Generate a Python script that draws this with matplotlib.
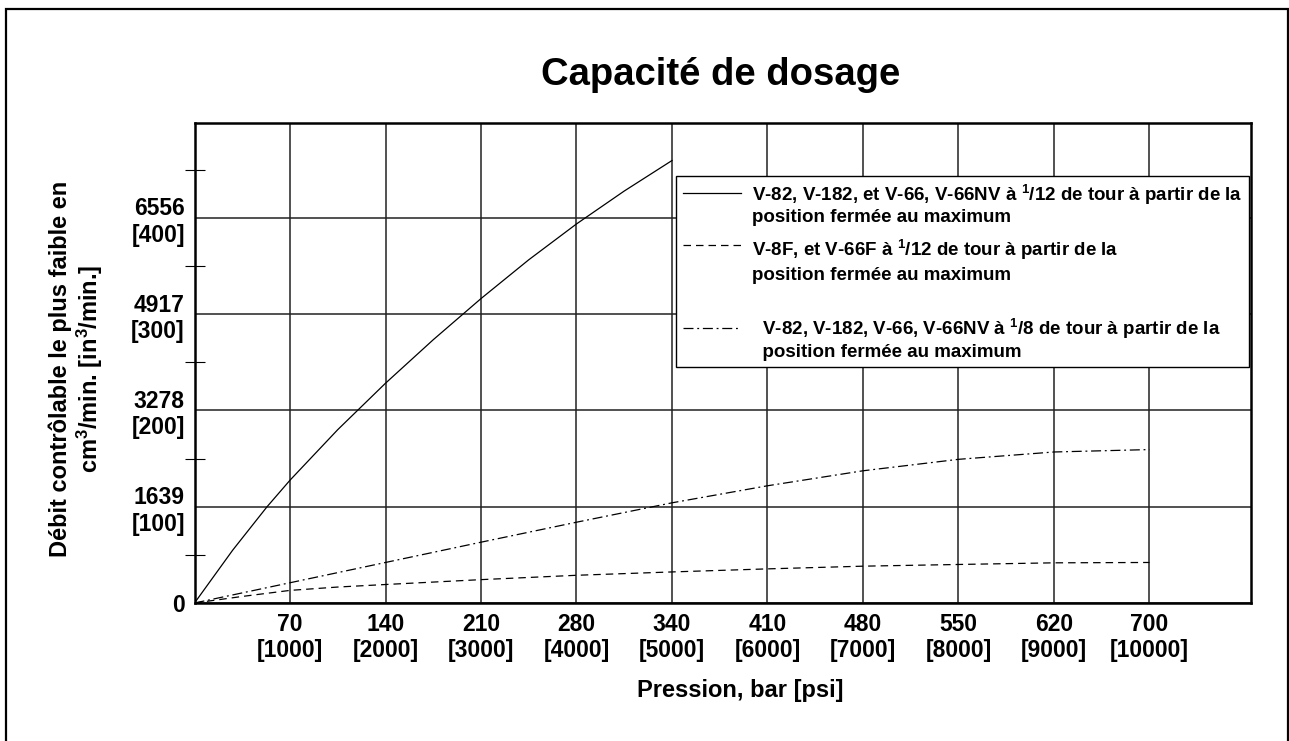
import numpy as np
import matplotlib
matplotlib.use('Agg')
import matplotlib.pyplot as plt
from matplotlib.patches import Rectangle
from matplotlib.legend_handler import HandlerLine2D

plt.rcParams['font.family'] = ['Liberation Sans', 'DejaVu Sans']
plt.rcParams['font.weight'] = 'bold'
plt.rcParams['mathtext.default'] = 'regular'

# valeurs (psi -> cm3/min)
psi_112 = [0, 400, 760, 1000, 1500, 2000, 2500, 3000, 3500, 4000, 4500, 5000]
debit_112 = [0, 900, 1639, 2090, 2950, 3740, 4480, 5180, 5840, 6450, 7010, 7529]

psi_f = [0, 500, 1000, 1500, 2000, 3000, 4000, 5000, 6000, 7000, 8000, 9000, 10000]
debit_f = [0, 112, 215, 272, 315, 398, 472, 529, 581, 627, 656, 684, 690]

psi_18 = [0, 1000, 2000, 3000, 4000, 5000, 6000, 7000, 8000, 9000, 10000]
debit_18 = [0, 345, 690, 1035, 1375, 1705, 1995, 2250, 2445, 2570, 2611]

x_ticks = [1000, 2000, 3000, 4000, 5000, 6000, 7000, 8000, 9000, 10000]
x_labels = ['70\n[1000]', '140\n[2000]', '210\n[3000]', '280\n[4000]', '340\n[5000]',
            '410\n[6000]', '480\n[7000]', '550\n[8000]', '620\n[9000]', '700\n[10000]']
y_ticks = [0, 1639, 3278, 4917, 6556]
y_labels = ['0', '1639\n[100]', '3278\n[200]', '4917\n[300]', '6556\n[400]']
y_minor = [819.5, 2458.5, 4097.5, 5736.5, 7375.5]

labels = ['V-82, V-182, et V-66, V-66NV à $^1$/12 de tour à partir de la\nposition fermée au maximum',
          'V-8F, et V-66F à $^1$/12 de tour à partir de la\nposition fermée au maximum\n',
          '  V-82, V-182, V-66, V-66NV à $^1$/8 de tour à partir de la\n  position fermée au maximum']


class HandlerTop(HandlerLine2D):  # trait de légende aligné sur la 1re ligne
    def __init__(self, shift=0.6, **kw):
        super().__init__(**kw)
        self.shift = shift

    def create_artists(self, legend, orig_handle, xdescent, ydescent,
                       width, height, fontsize, trans):
        arts = super().create_artists(legend, orig_handle, xdescent, ydescent,
                                      width, height, fontsize, trans)
        for a in arts:
            a.set_ydata(np.asarray(a.get_ydata()) + self.shift * fontsize)
        return arts


fig = plt.figure(figsize=(12.89, 7.41), dpi=100)
ax = fig.add_axes([0.1509, 0.1862, 0.8196, 0.6484])

l1, = ax.plot(psi_112, debit_112, color='black', lw=0.9)
l2, = ax.plot(psi_f, debit_f, color='black', lw=0.9, dashes=(6, 4))
l3, = ax.plot(psi_18, debit_18, color='black', lw=0.9, dashes=(8, 3, 1.5, 3))

ax.set_xlim(0, 11063)
ax.set_ylim(0, 8175)
ax.set_xticks(x_ticks)
ax.set_xticklabels(x_labels, fontsize=16.5)
ax.set_yticks(y_ticks)
ax.set_yticklabels(y_labels, fontsize=16.5)
ax.set_yticks(y_minor, minor=True)
ax.tick_params(axis='both', which='major', length=0, pad=7)
ax.tick_params(axis='y', which='minor', direction='inout', length=14, width=0.8)
ax.grid(True, which='major', color='#222222', lw=1.1)
ax.set_axisbelow(True)
for s in ax.spines.values():
    s.set_linewidth(1.8)

leg = ax.legend([l1, l2, l3], labels, loc='upper left', bbox_to_anchor=(0.4557, 0.889),
                borderaxespad=0, fancybox=False, framealpha=1, edgecolor='black',
                fontsize=13.5, handlelength=3.1, handletextpad=0.6, labelspacing=0.6,
                borderpad=0.35,
                handler_map={l1: HandlerTop(0.6), l2: HandlerTop(1.4), l3: HandlerTop(0.6)})
leg.get_frame().set_linewidth(1.0)
leg.get_texts()[1].set_linespacing(1.4)

fig.text(721 / 1289, 1 - 75 / 741, 'Capacité de dosage', ha='center', va='center',
         fontsize=27.5, fontweight='bold')
fig.text(740 / 1289, 1 - 690 / 741, 'Pression, bar [psi]', ha='center', va='center',
         fontsize=17, fontweight='bold')
fig.text(77 / 1289, 1 - 369 / 741, 'Débit contrôlable le plus faible en\ncm$^3$/min. [in$^3$/min.]',
         ha='center', va='center', rotation=90, fontsize=17, fontweight='bold',
         multialignment='center', linespacing=1.1)

fig.add_artist(Rectangle((6 / 1289, -0.05), 1282 / 1289, 1.05 - 9 / 741,
                         transform=fig.transFigure, fill=False, lw=1.6, color='black'))

fig.savefig('out.png', dpi=100)
